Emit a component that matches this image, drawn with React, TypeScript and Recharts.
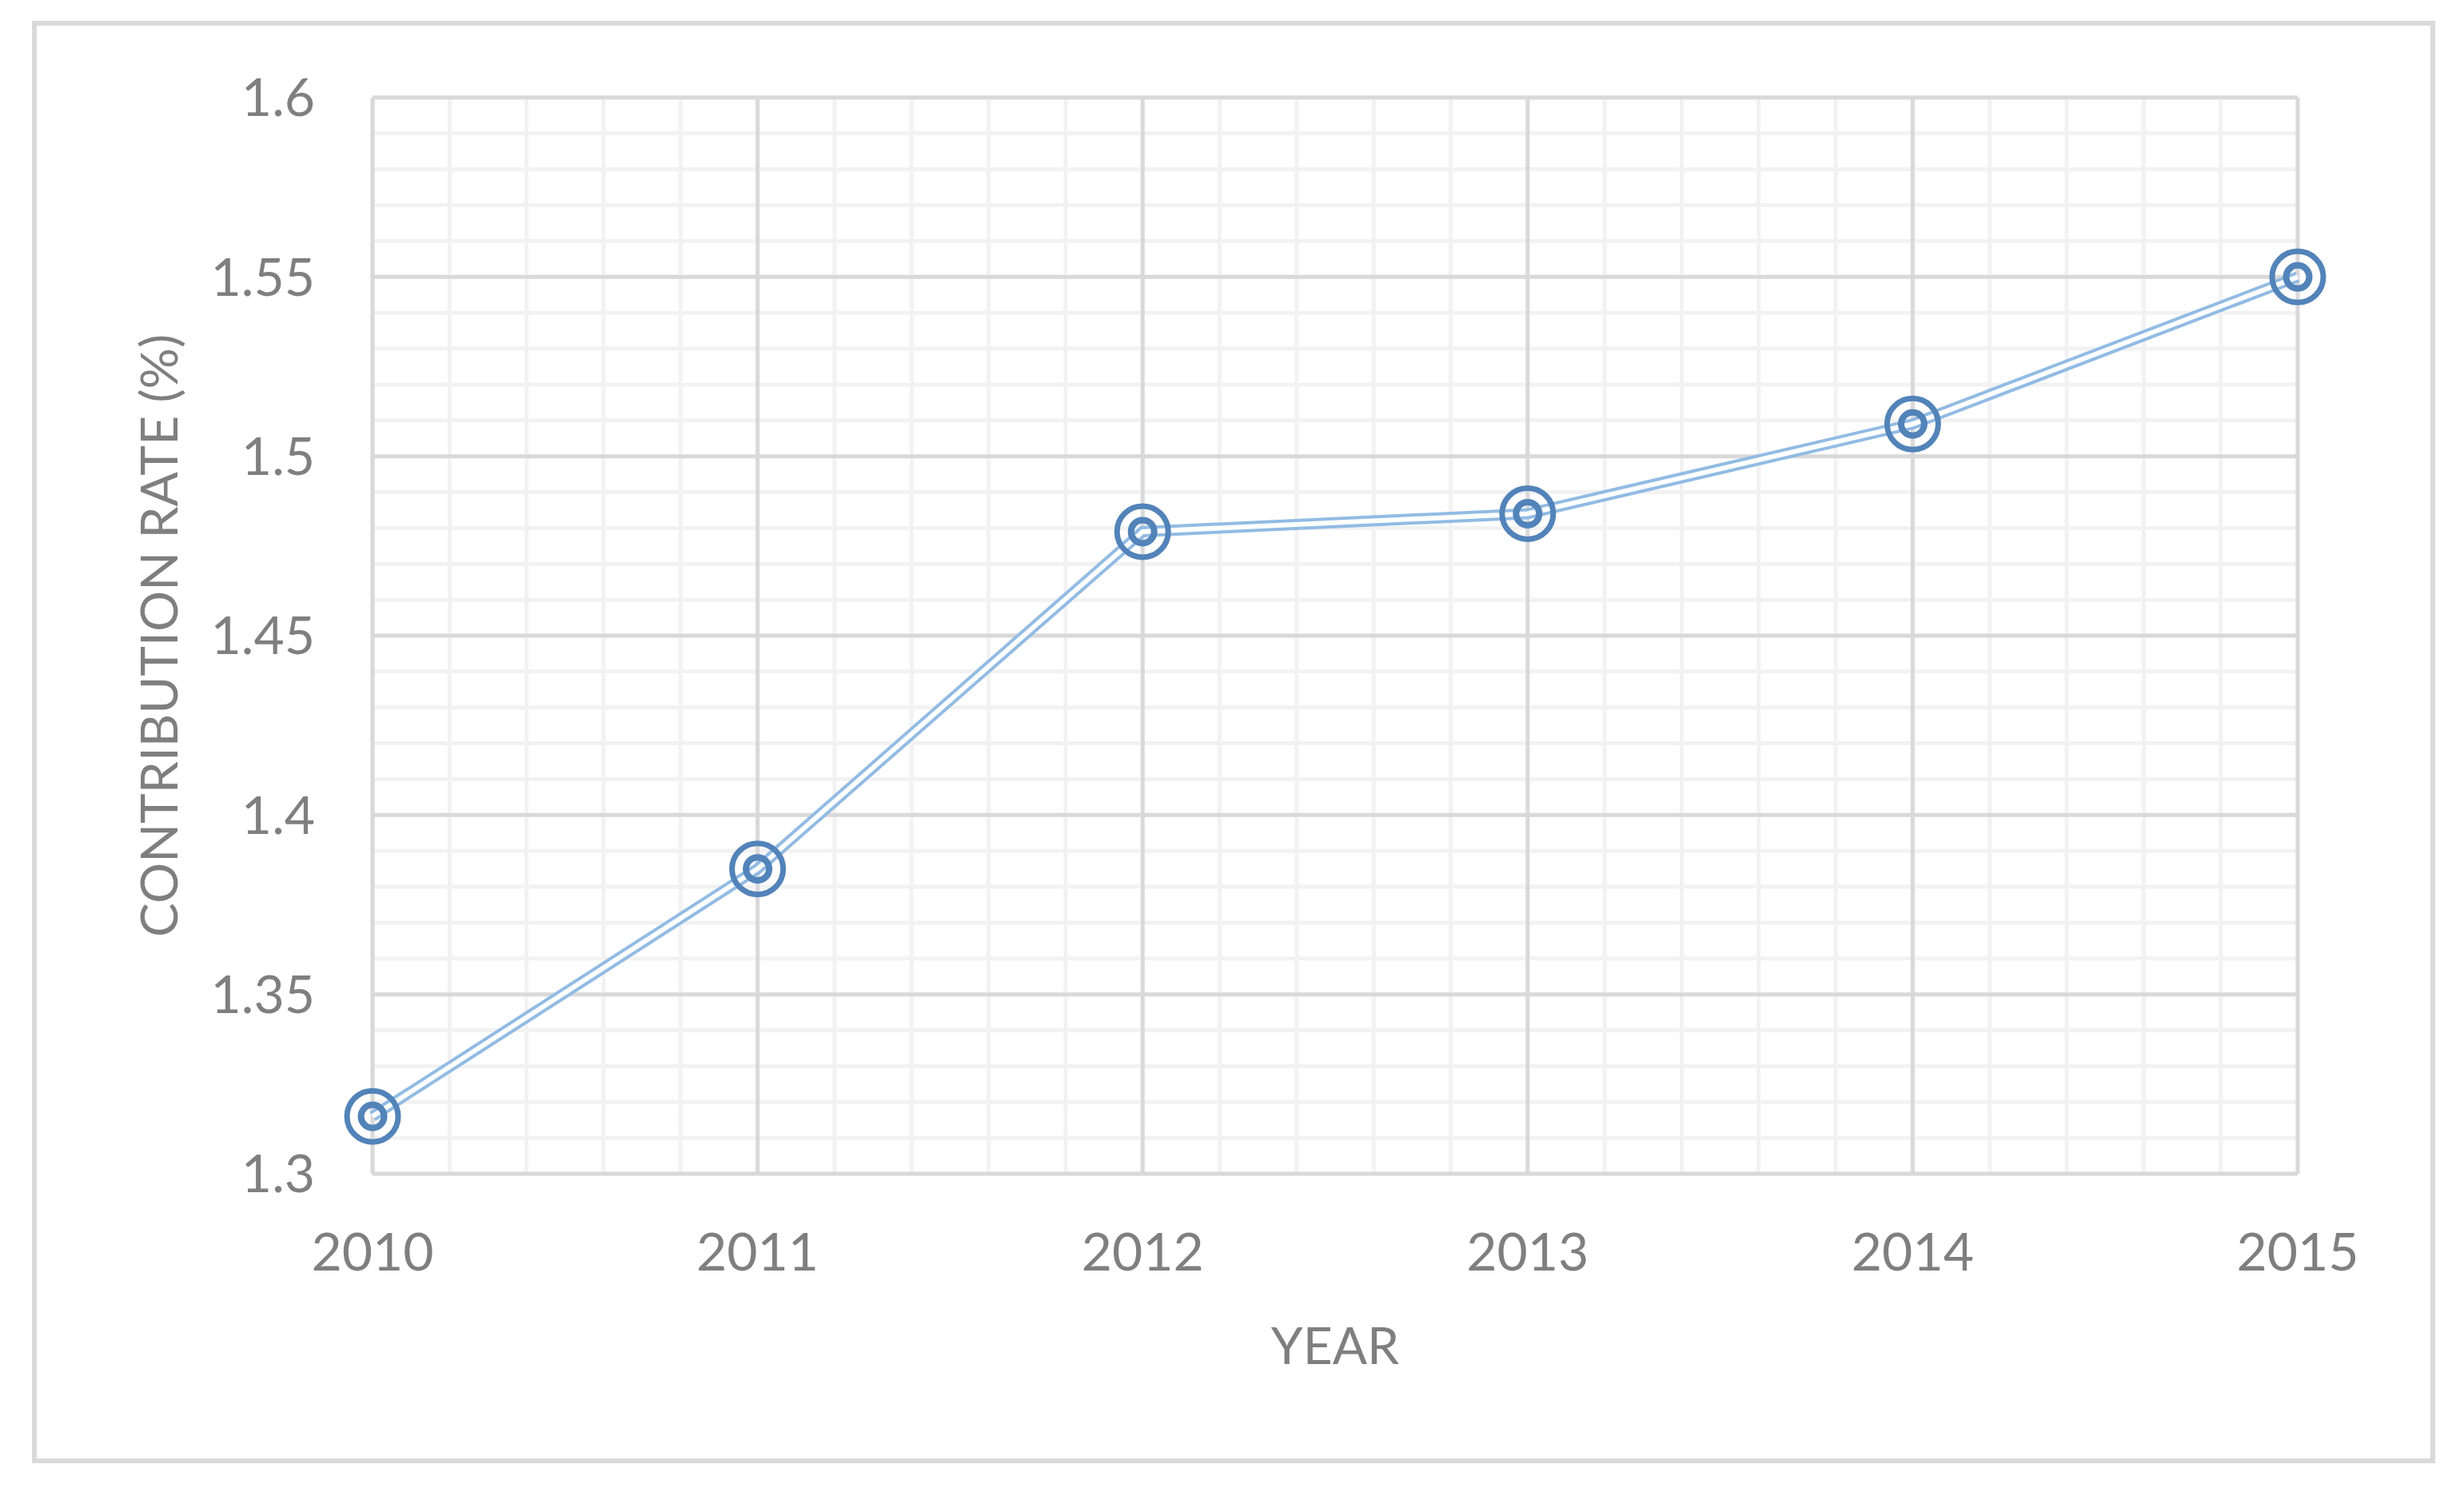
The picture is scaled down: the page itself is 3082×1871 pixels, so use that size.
import React from "react"
import { LineChart, Line, XAxis, YAxis, CartesianGrid, Label } from "recharts"

const years = [2010, 2011, 2012, 2013, 2014, 2015]
const rates = [1.316, 1.385, 1.479, 1.484, 1.509, 1.55]
const yTicks = [1.3, 1.35, 1.4, 1.45, 1.5, 1.55, 1.6]

// minor gridlines (Excel style): every 0.2 year and every 0.01
const minorX = [
  2010, 2010.2, 2010.4, 2010.6, 2010.8, 2011, 2011.2, 2011.4, 2011.6, 2011.8, 2012, 2012.2, 2012.4,
  2012.6, 2012.8, 2013, 2013.2, 2013.4, 2013.6, 2013.8, 2014, 2014.2, 2014.4, 2014.6, 2014.8, 2015,
]
const minorY = [
  1.3, 1.31, 1.32, 1.33, 1.34, 1.35, 1.36, 1.37, 1.38, 1.39, 1.4, 1.41, 1.42, 1.43, 1.44, 1.45, 1.46,
  1.47, 1.48, 1.49, 1.5, 1.51, 1.52, 1.53, 1.54, 1.55, 1.56, 1.57, 1.58, 1.59, 1.6,
]

const data = years.map((year, i) => ({ year, rate: rates[i] }))

const textColor = "#7f7f7f"
const font = "Lato, 'Open Sans', sans-serif"
const markerColor = "#5283b9"

const TargetDot = (props: any) => {
  const { cx, cy, index } = props
  if (cx == null || cy == null) return null
  return (
    <g key={`dot-${index}`}>
      <circle cx={cx} cy={cy} r={32} fill="none" stroke={markerColor} strokeWidth={7} />
      <circle cx={cx} cy={cy} r={14.5} fill="none" stroke={markerColor} strokeWidth={8} />
    </g>
  )
}

const YTitle = (props: any) => {
  const { x, y, height } = props.viewBox
  const cx = x + 31
  const cy = y + height / 2
  return (
    <text
      x={cx}
      y={cy}
      transform={`rotate(-90, ${cx}, ${cy})`}
      textAnchor="middle"
      dominantBaseline="central"
      fill={textColor}
      fontSize={64}
      fontFamily={font}
    >
      CONTRIBUTION RATE (%)
    </text>
  )
}

const XTitle = (props: any) => {
  const { x, y, width } = props.viewBox
  return (
    <text
      x={x + width / 2}
      y={y + 213}
      textAnchor="middle"
      dominantBaseline="central"
      fill={textColor}
      fontSize={64}
      fontFamily={font}
    >
      YEAR
    </text>
  )
}

export default function App() {
  return (
    <div style={{ position: "absolute", left: 0, top: 0, width: 3082, height: 1871, background: "#fff" }}>
      <div
        style={{
          position: "absolute",
          left: 40,
          top: 26,
          width: 3006,
          height: 1804,
          border: "6px solid #d9d9d9",
          boxSizing: "border-box",
        }}
      />
      <div style={{ position: "absolute", left: 0, top: 0 }}>
        <LineChart width={3082} height={1871} data={data} margin={{ top: 122, right: 208, left: 166, bottom: 203 }}>
          <XAxis xAxisId="minor" type="number" dataKey="year" domain={[2010, 2015]} ticks={minorX} interval={0} hide />
          <YAxis
            yAxisId="minor"
            type="number"
            dataKey="rate"
            domain={[1.3, 1.6]}
            ticks={minorY}
            interval={0}
            hide
          />
          <CartesianGrid xAxisId="minor" yAxisId="minor" stroke="#f2f2f2" strokeWidth={5} />
          <CartesianGrid stroke="#d9d9d9" strokeWidth={5} />
          <XAxis
            type="number"
            dataKey="year"
            domain={[2010, 2015]}
            ticks={years}
            axisLine={false}
            tickLine={false}
            tickSize={0}
            tickMargin={74}
            height={200}
            tick={{ fill: textColor, fontSize: 66, fontFamily: font }}
          >
            <Label content={XTitle} />
          </XAxis>
          <YAxis
            type="number"
            domain={[1.3, 1.6]}
            ticks={yTicks}
            axisLine={false}
            tickLine={false}
            tickSize={0}
            tickMargin={72}
            width={300}
            tick={{ fill: textColor, fontSize: 66, fontFamily: font }}
          >
            <Label content={YTitle} />
          </YAxis>
          <Line
            type="linear"
            dataKey="rate"
            stroke="#92bbe4"
            strokeWidth={14}
            dot={false}
            activeDot={false}
            isAnimationActive={false}
          />
          <Line
            type="linear"
            dataKey="rate"
            stroke="#ffffff"
            strokeWidth={6}
            dot={<TargetDot />}
            activeDot={false}
            isAnimationActive={false}
          />
        </LineChart>
      </div>
    </div>
  )
}
